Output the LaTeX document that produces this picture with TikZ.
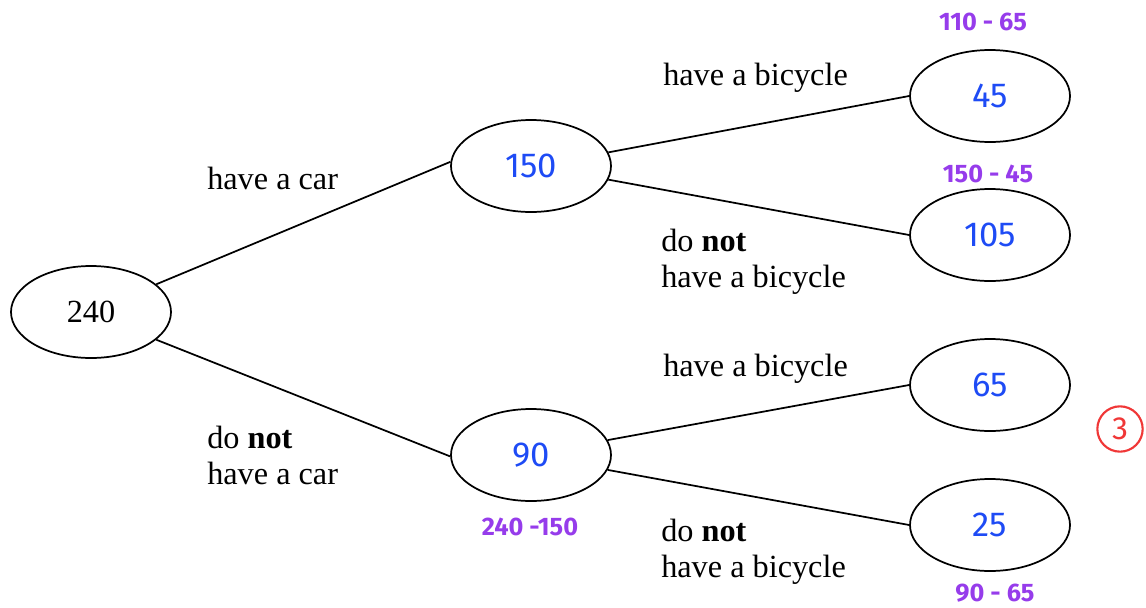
\documentclass[tikz,border=0pt]{standalone}
\usepackage{fontspec}
\setmainfont{Liberation Serif}
\newfontfamily\handfont{Fira Sans}
\usetikzlibrary{shapes.geometric}
\definecolor{inkblue}{RGB}{30,75,245}
\definecolor{inkpurple}{RGB}{150,60,235}
\definecolor{inkred}{RGB}{240,55,55}
\begin{document}
\begin{tikzpicture}[x=0.75pt,y=-0.75pt,
  oval/.style={ellipse,draw,line width=1.3pt,minimum width=120pt,minimum height=69pt,inner sep=0pt},
  branch/.style={line width=1.3pt},
  lbl/.style={anchor=west,inner sep=0pt,align=left,font=\fontsize{24.2}{27}\selectfont},
  tally/.style={text=inkblue,font=\handfont\fontsize{26}{28}\selectfont},
  work/.style={text=inkpurple,font=\handfont\bfseries\fontsize{19}{21}\selectfont,inner sep=0pt}]
\useasboundingbox (0,0) rectangle (1146,607);
% tree nodes
\node[oval] (root) at (91,312) {\fontsize{24.2}{27}\selectfont 240};
\node[oval,tally] (car) at (531,166) {150};
\node[oval,tally] (nocar) at (531,455) {90};
\node[oval,tally] (cb) at (990,96) {45};
\node[oval,tally] (cnb) at (990,235) {105};
\node[oval,tally] (ncb) at (990,385) {65};
\node[oval,tally] (ncnb) at (990,525) {25};
% branches
\draw[branch] (root.23) -- (car.177);
\draw[branch] (root.-23) -- (nocar.181);
\draw[branch] (car.10) -- (cb.180);
\draw[branch] (car.-10) -- (cnb.180);
\draw[branch] (nocar.11) -- (ncb.180);
\draw[branch] (nocar.-11) -- (ncnb.180);
% branch labels
\node[lbl] (l1) at (207,178) {have a car};
\node[lbl] (l2) at (207,455) {do \textbf{not}\\have a car};
\node[lbl] (l3) at (663,78) {have a bicycle};
\node[lbl] (l4) at (661,262) {do \textbf{not}\\have a bicycle};
\node[lbl] (l5) at (663,369) {have a bicycle};
\node[lbl] (l6) at (661,552) {do \textbf{not}\\have a bicycle};
% working
\node[work] (w1) at (983,22) {110 - 65};
\node[work] (w2) at (988,174) {150 - 45};
\node[work] (w3) at (530,527) {240 -150};
\node[work] (w4) at (995,593) {90 - 65};
% mark
\node[circle,draw=inkred,line width=1.6pt,minimum size=34pt,inner sep=0pt,text=inkred,font=\handfont\fontsize{24}{26}\selectfont] (mark) at (1120,429) {3};
\end{tikzpicture}
\end{document}
